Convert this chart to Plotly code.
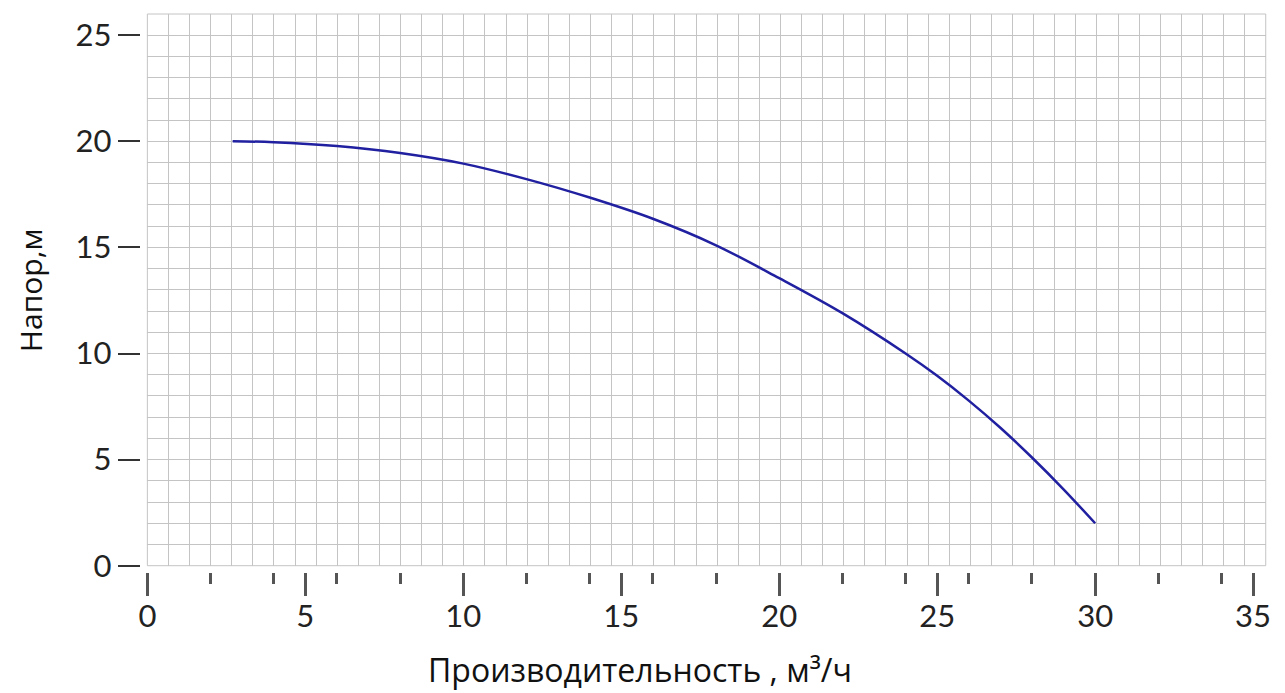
import plotly.graph_objects as go

# Data
flow = [2.7, 4, 6, 8, 10, 12, 14, 16, 18, 20, 22, 24, 25, 26, 27, 28, 29, 30]
head = [20.0, 19.96, 19.78, 19.45, 18.95, 18.22, 17.35, 16.35, 15.1, 13.55, 11.9, 10.0, 8.95, 7.78, 6.5, 5.1, 3.6, 2.0]

x_major_ticks = [0, 5, 10, 15, 20, 25, 30, 35]
y_major_ticks = [0, 5, 10, 15, 20, 25]

x_range = [0, 35.4]
y_range = [0, 26]
grid_cells_x = 53

# the page body has an 8px margin; compensate so the figure lands where the reference is
OFF = 8
W, H = 1285 - OFF, 693 - OFF
ml, mr, mt, mb = 60, 6, 6, 60
pw, ph = W - ml - mr, H - mt - mb

def fx(px):
    return (px - OFF - ml) / pw

def fy(py):
    return (H - mb - (py - OFF)) / ph

tick_font = dict(family="Lato, sans-serif", size=31, color="#222")
grid_color = "#c4c4c4"

fig = go.Figure()
fig.add_trace(go.Scatter(
    x=flow, y=head, mode="lines",
    line=dict(color="#2020a0", width=2.5, shape="spline", smoothing=1.0),
    hoverinfo="x+y", showlegend=False,
))
# invisible helper trace for the square-grid axis
fig.add_trace(go.Scatter(x=[0, grid_cells_x], y=[0, 0], xaxis="x2", yaxis="y",
                         mode="markers", marker=dict(opacity=0), hoverinfo="skip",
                         showlegend=False))

x_dom = [fx(147.7), fx(1270.7)]
y_dom = [fy(565.7), fy(14)]

fig.update_layout(
    width=W, height=H,
    margin=dict(l=ml, r=mr, t=mt, b=mb),
    paper_bgcolor="white", plot_bgcolor="white",
    xaxis=dict(
        domain=x_dom, range=x_range, anchor="free", position=fy(572),
        tickvals=x_major_ticks, ticks="outside", ticklen=23, tickwidth=2.5,
        tickcolor="#555", showgrid=False, zeroline=False, showline=False,
        tickfont=tick_font, ticklabelstandoff=-6,
        minor=dict(dtick=2, tick0=0, ticks="outside", ticklen=11, tickwidth=2.5,
                   tickcolor="#555", showgrid=False),
    ),
    xaxis2=dict(
        overlaying="x", range=[0, grid_cells_x], anchor="y", dtick=1, tick0=0,
        showgrid=True, gridcolor=grid_color, gridwidth=1, showticklabels=False,
        ticks="", zeroline=False, showline=False,
    ),
    yaxis=dict(
        domain=y_dom, range=y_range, anchor="free", position=fx(140),
        tickvals=y_major_ticks, ticks="outside", ticklen=22, tickwidth=2,
        tickcolor="#333", showgrid=True, gridcolor=grid_color, gridwidth=1,
        zeroline=False, showline=False, tickfont=tick_font,
        minor=dict(dtick=1, tick0=0, showgrid=True, gridcolor=grid_color, gridwidth=1),
    ),
    annotations=[
        dict(text="Производительность , м³/ч", xref="paper", yref="paper",
             x=fx(642), y=fy(692), showarrow=False,
             font=dict(family="Open Sans, sans-serif", size=32, color="#111"),
             xanchor="center", yanchor="bottom", borderpad=0),
        dict(text="Напор,м", xref="paper", yref="paper", textangle=-90,
             x=fx(30), y=fy(290), showarrow=False,
             font=dict(family="Open Sans, sans-serif", size=30, color="#111"),
             xanchor="center", yanchor="middle"),
    ],
    shapes=[
        dict(type="rect", xref="x domain", yref="y domain", x0=0, x1=1, y0=0, y1=1,
             line=dict(color=grid_color, width=1), layer="below"),
    ],
)

fig.write_html("out.html")
